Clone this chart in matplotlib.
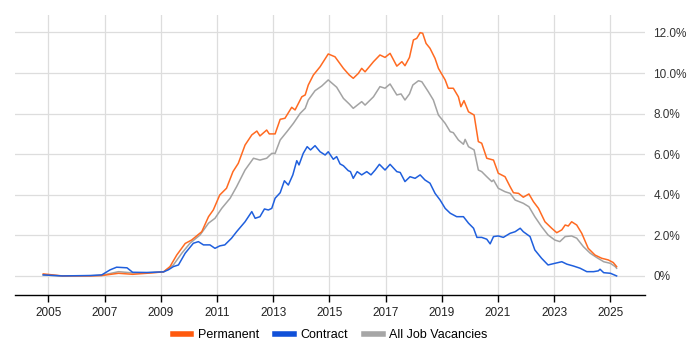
import matplotlib
matplotlib.use("Agg")
import matplotlib.pyplot as plt
from matplotlib.ticker import FuncFormatter, FixedLocator

perm_x = [2004.82, 2005.5, 2006.5, 2006.9, 2007.5, 2008.0, 2008.5, 2009.1, 2009.33, 2009.57, 2009.87,
          2010.1, 2010.46, 2010.7, 2010.87, 2011.1, 2011.34, 2011.57, 2011.76, 2012.0, 2012.24,
          2012.42, 2012.53, 2012.77, 2012.86, 2013.07, 2013.25, 2013.42, 2013.66, 2013.78, 2014.02,
          2014.14, 2014.25, 2014.43, 2014.67, 2014.96, 2015.2, 2015.5, 2015.71, 2015.85, 2016.03,
          2016.15, 2016.27, 2016.57, 2016.8, 2016.98, 2017.16, 2017.4, 2017.58, 2017.69, 2017.85,
          2017.99, 2018.11, 2018.23, 2018.32, 2018.44, 2018.58, 2018.76, 2018.88, 2019.12, 2019.23,
          2019.41, 2019.59, 2019.68, 2019.79, 2019.95, 2020.15, 2020.3, 2020.42, 2020.6, 2020.84,
          2021.01, 2021.25, 2021.43, 2021.55, 2021.73, 2021.9, 2022.1, 2022.26, 2022.44, 2022.67,
          2022.91, 2023.09, 2023.27, 2023.39, 2023.5, 2023.62, 2023.8, 2023.98, 2024.21, 2024.45,
          2024.69, 2024.92, 2025.1, 2025.22]
perm_y = [0.1, 0.0, 0.0, 0.02, 0.13, 0.08, 0.13, 0.2, 0.46, 1.03, 1.6,
          1.77, 2.18, 2.92, 3.25, 3.99, 4.32, 5.14, 5.55, 6.45, 6.95,
          7.14, 6.9, 7.19, 7.0, 7.0, 7.72, 7.77, 8.31, 8.18, 8.83,
          8.92, 9.41, 9.9, 10.31, 10.94, 10.8, 10.23, 9.9, 9.74, 9.98,
          10.23, 10.06, 10.56, 10.89, 10.77, 10.97, 10.34, 10.56, 10.36, 10.77,
          11.63, 11.71, 11.99, 11.96, 11.46, 11.22, 10.72, 10.23, 9.66, 9.25,
          9.25, 8.83, 8.34, 8.64, 8.09, 7.93, 6.62, 6.54, 5.8, 5.71,
          5.06, 4.89, 4.4, 4.1, 4.07, 3.88, 4.04, 3.66, 3.33, 2.67,
          2.35, 2.13, 2.27, 2.51, 2.46, 2.67, 2.51, 2.1, 1.36, 1.03,
          0.87, 0.79, 0.66, 0.46]

contract_x = [2004.82, 2005.5, 2006.5, 2006.9, 2007.2, 2007.43, 2007.8, 2008.0, 2008.5, 2009.1,
              2009.27, 2009.45, 2009.63, 2009.87, 2010.16, 2010.34, 2010.52, 2010.75, 2010.93, 2011.1,
              2011.28, 2011.52, 2011.7, 2012.0, 2012.24, 2012.36, 2012.53, 2012.69, 2012.83, 2012.95,
              2013.07, 2013.25, 2013.4, 2013.54, 2013.7, 2013.84, 2013.92, 2014.07, 2014.21, 2014.33,
              2014.49, 2014.67, 2014.85, 2014.96, 2015.14, 2015.26, 2015.38, 2015.5, 2015.67, 2015.75,
              2015.85, 2015.99, 2016.15, 2016.33, 2016.48, 2016.63, 2016.78, 2016.98, 2017.16, 2017.4,
              2017.52, 2017.69, 2017.87, 2018.05, 2018.23, 2018.4, 2018.58, 2018.76, 2018.94, 2019.12,
              2019.3, 2019.53, 2019.77, 2019.95, 2020.13, 2020.25, 2020.42, 2020.6, 2020.72, 2020.84,
              2021.01, 2021.19, 2021.43, 2021.61, 2021.79, 2021.9, 2022.14, 2022.31, 2022.55, 2022.78,
              2023.02, 2023.27, 2023.45, 2023.68, 2023.92, 2024.16, 2024.4, 2024.57, 2024.63, 2024.76,
              2025.0, 2025.22]
contract_y = [0.05, 0.0, 0.02, 0.05, 0.3, 0.43, 0.4, 0.18, 0.17, 0.2,
              0.3, 0.46, 0.54, 1.12, 1.61, 1.69, 1.53, 1.53, 1.36, 1.48,
              1.53, 1.86, 2.18, 2.67, 3.17, 2.84, 2.92, 3.3, 3.25, 3.33,
              3.83, 4.1, 4.69, 4.48, 4.98, 5.68, 5.47, 6.04, 6.37, 6.21,
              6.42, 6.12, 5.96, 6.12, 5.75, 5.88, 5.52, 5.43, 5.19, 5.14,
              4.81, 5.14, 4.98, 5.14, 4.98, 5.22, 5.5, 5.22, 5.5, 5.14,
              5.1, 4.65, 4.89, 4.81, 4.98, 4.73, 4.57, 4.07, 3.74, 3.33,
              3.09, 2.92, 2.92, 2.6, 2.35, 1.9, 1.9, 1.81, 1.58, 1.94,
              1.97, 1.9, 2.1, 2.18, 2.35, 2.18, 1.94, 1.28, 0.87, 0.54,
              0.62, 0.7, 0.58, 0.49, 0.38, 0.21, 0.21, 0.25, 0.33, 0.16,
              0.13, 0.0]

all_x = [2004.82, 2005.5, 2006.5, 2006.9, 2007.5, 2008.0, 2008.5, 2009.1, 2009.45, 2009.75,
         2010.04, 2010.4, 2010.7, 2010.93, 2011.17, 2011.47, 2011.7, 2012.0, 2012.3, 2012.53,
         2012.77, 2012.95, 2013.07, 2013.25, 2013.49, 2013.72, 2013.96, 2014.14, 2014.25, 2014.49,
         2014.73, 2014.96, 2015.26, 2015.5, 2015.71, 2015.85, 2016.15, 2016.27, 2016.57, 2016.8,
         2016.98, 2017.16, 2017.4, 2017.55, 2017.69, 2017.85, 2017.97, 2018.17, 2018.29, 2018.52,
         2018.7, 2018.88, 2019.12, 2019.3, 2019.41, 2019.59, 2019.77, 2019.83, 2019.95, 2020.15,
         2020.3, 2020.42, 2020.6, 2020.78, 2020.84, 2021.01, 2021.25, 2021.43, 2021.61, 2021.9,
         2022.1, 2022.31, 2022.55, 2022.78, 2023.02, 2023.2, 2023.39, 2023.62, 2023.8, 2024.04,
         2024.28, 2024.52, 2024.76, 2025.0, 2025.17, 2025.22]
all_y = [0.05, 0.0, 0.01, 0.03, 0.21, 0.15, 0.15, 0.2, 0.54, 1.12,
         1.61, 2.02, 2.6, 2.84, 3.33, 3.83, 4.4, 5.22, 5.8, 5.71,
         5.8, 6.04, 6.04, 6.7, 7.11, 7.52, 8.01, 8.26, 8.67, 9.13,
         9.36, 9.66, 9.3, 8.75, 8.47, 8.26, 8.59, 8.42, 8.83, 9.33,
         9.25, 9.46, 8.92, 8.97, 8.67, 8.97, 9.41, 9.62, 9.57, 9.08,
         8.67, 7.93, 7.52, 7.11, 7.06, 6.7, 6.49, 6.73, 6.37, 6.21,
         5.22, 5.14, 4.89, 4.65, 4.73, 4.32, 4.15, 4.07, 3.74, 3.58,
         3.41, 2.92, 2.43, 2.02, 1.77, 1.69, 1.94, 1.97, 1.86, 1.44,
         1.12, 0.9, 0.7, 0.62, 0.46, 0.38]

x_ticks = [2005, 2007, 2009, 2011, 2013, 2015, 2017, 2019, 2021, 2023, 2025]
y_ticks = [0, 2, 4, 6, 8, 10, 12]

series_names = ["Permanent", "Contract", "All Job Vacancies"]
colors = ["#FF6A21", "#1F5FDD", "#A3A3A3"]

plt.rcParams['font.family'] = ['Liberation Sans', 'DejaVu Sans']

fig = plt.figure(figsize=(7, 3.5), dpi=100)
ax = fig.add_axes([15/700, 1-295/350, 630/700, 280/350])

l3, = ax.plot(all_x, all_y, color=colors[2], lw=1.1, label=series_names[2], zorder=2)
l1, = ax.plot(perm_x, perm_y, color=colors[0], lw=1.1, label=series_names[0], zorder=3)
l2, = ax.plot(contract_x, contract_y, color=colors[1], lw=1.1, label=series_names[1], zorder=4)

ax.set_xlim(2003.815, 2026.23)
ax.set_ylim(-0.94, 12.86)
ax.xaxis.set_major_locator(FixedLocator(x_ticks))
ax.yaxis.set_major_locator(FixedLocator(y_ticks))
ax.yaxis.set_major_formatter(FuncFormatter(lambda v, p: "0%" if v == 0 else f"{v:.1f}%"))
ax.yaxis.tick_right()
ax.tick_params(axis='y', length=0, pad=6, labelsize=8.5, colors='#333333')
ax.tick_params(axis='x', length=5, width=1, color='black', pad=4, labelsize=8.5, labelcolor='#222222')
ax.grid(True, color='#DDDDDD', lw=0.9)
ax.set_axisbelow(True)
for s in ['top', 'right', 'left']:
    ax.spines[s].set_visible(False)
ax.spines['bottom'].set_color('black')
ax.spines['bottom'].set_linewidth(1)

handles = [plt.Line2D([], [], color=c, lw=4) for c in ["#FF5A0E", "#1050D8", "#A6A6A6"]]
fig.legend(handles, series_names, loc='center', bbox_to_anchor=(330/700, 1-335/350),
           ncol=3, frameon=False, fontsize=9, handlelength=1.5, handletextpad=0.5,
           columnspacing=1.3)

fig.savefig("out.png", dpi=100)
